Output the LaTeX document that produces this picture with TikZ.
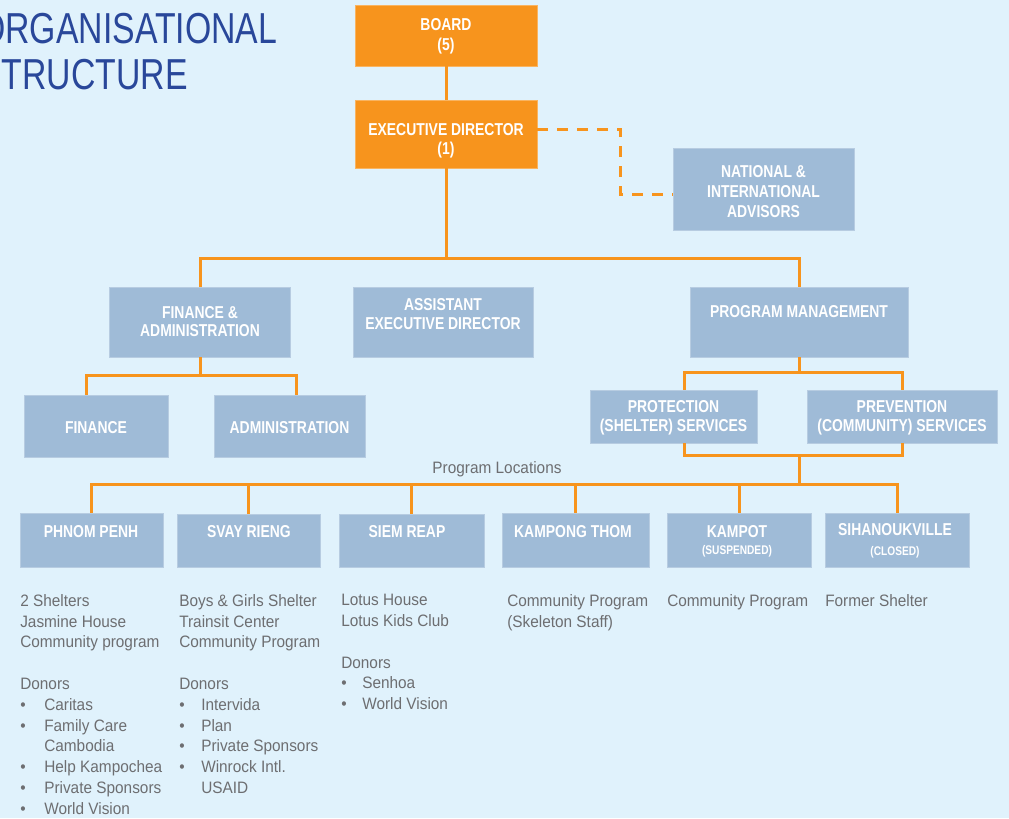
\documentclass[tikz,border=0pt]{standalone}
\usepackage{fontspec}
\setmainfont{Liberation Sans}
\newfontfamily\boxfont{Liberation Sans}[FakeStretch=0.81]
\newfontfamily\bodyfont{Liberation Sans}[FakeStretch=0.93]
\newfontfamily\titlefont{Liberation Sans}[FakeStretch=0.78]
\definecolor{bg}{HTML}{E0F2FC}
\definecolor{orng}{HTML}{F7941D}
\definecolor{boxblue}{HTML}{9FBBD7}
\definecolor{titleblue}{HTML}{29479A}
\definecolor{txtgray}{HTML}{6D6E71}
\newcommand\bulx[1]{\makebox[#1][l]{\textbullet}}
\tikzset{
  bx/.style 2 args={minimum width=#1*0.75pt, minimum height=#2*0.75pt},
  bbox/.style={fill=boxblue, draw=boxblue!75!white, line width=0.4pt, inner sep=0pt},
  obox/.style={fill=orng, draw=orng!70!white, line width=0.4pt, inner sep=0pt},
  btxt/.style={text=white, font=\boxfont\bfseries\fontsize{12.9}{14}\selectfont, align=center, inner sep=0pt},
  stxt/.style={text=white, font=\boxfont\bfseries\fontsize{9.4}{11}\selectfont, align=center, inner sep=0pt},
  bodytxt/.style={text=txtgray, font=\bodyfont\fontsize{12.4}{15.6}\selectfont, align=left, inner sep=0pt},
  titletxt/.style={text=titleblue, font=\titlefont\fontsize{32.5}{34.5}\selectfont, inner sep=0pt},
  conn/.style={draw=orng, line width=2.25pt},
  dconn/.style={draw=orng, line width=2.25pt, dash pattern=on 8pt off 7pt}
}
\begin{document}
\begin{tikzpicture}[x=0.75pt,y=-0.75pt]
\fill[bg] (0,0) rectangle (1009,818);
\useasboundingbox (0,0) rectangle (1009,818);

% title
\node[titletxt, anchor=base west] (t1) at (-21,43) {ORGANISATIONAL};
\node[titletxt, anchor=base west] (t2) at (-21,89) {STRUCTURE};

% top boxes
\node[obox, bx={182}{61}] (board) at (446,35.5) {};
\node[btxt] (boardt) at (446,36.5) {BOARD\\[1pt](5)};
\node[obox, bx={182}{68}] (ed) at (446,134) {};
\node[btxt] (edt) at (446,141) {EXECUTIVE DIRECTOR\\(1)};
\node[bbox, bx={181}{82}] (adv) at (763.5,189) {};
\node[btxt] (advt) at (763.5,192) {NATIONAL \&\\[1pt]INTERNATIONAL\\[1pt]ADVISORS};

% second level
\node[bbox, bx={181}{70}] (fa) at (200,322) {};
\node[btxt] (fat) at (200,321.5) {FINANCE \&\\ADMINISTRATION};
\node[bbox, bx={180}{70}] (aed) at (443,322) {};
\node[btxt] (aedt) at (443,314) {ASSISTANT\\EXECUTIVE DIRECTOR};
\node[bbox, bx={218}{70}] (pm) at (799,322) {};
\node[btxt] (pmt) at (799,312) {PROGRAM MANAGEMENT};

% third level
\node[bbox, bx={144}{62}] (fin) at (96,426) {};
\node[btxt] (fint) at (96,428) {FINANCE};
\node[bbox, bx={151}{62}] (adm) at (289.5,426) {};
\node[btxt] (admt) at (289.5,428) {ADMINISTRATION};
\node[bbox, bx={167}{53}] (prot) at (673.5,416.5) {};
\node[btxt] (prott) at (673.5,418) {PROTECTION\\(SHELTER) SERVICES};
\node[bbox, bx={190}{53}] (prev) at (902,416.5) {};
\node[btxt] (prevt) at (902,418) {PREVENTION\\(COMMUNITY) SERVICES};

\node[bodytxt] (pl) at (497,469) {Program Locations};

% locations
\node[bbox, bx={143}{54}] (pp) at (91.5,540) {};
\node[btxt] (ppt) at (91,532) {PHNOM PENH};
\node[bbox, bx={143}{53}] (sr) at (248.5,540.5) {};
\node[btxt] (srt) at (249,532) {SVAY RIENG};
\node[bbox, bx={145}{53}] (sre) at (411.5,540.5) {};
\node[btxt] (sret) at (407,532) {SIEM REAP};
\node[bbox, bx={147}{54}] (kt) at (575.5,540) {};
\node[btxt] (ktt) at (573,532) {KAMPONG THOM};
\node[bbox, bx={144}{54}] (kp) at (739,540) {};
\node[btxt] (kpt) at (737,532) {KAMPOT};
\node[stxt] (kps) at (737,551) {(SUSPENDED)};
\node[bbox, bx={144}{54}] (sh) at (897,540) {};
\node[btxt] (sht) at (895,530) {SIHANOUKVILLE};
\node[stxt] (shs) at (895,552) {(CLOSED)};

% connectors
\draw[conn] (board.south) -- (ed.north);
\coordinate (j1) at (446,258);
\draw[conn] (ed.south) -- (j1);
\draw[conn] (fa.north) |- (j1) -| (pm.north);
\coordinate (dk) at (620,160);
\draw[dconn] ([yshift=3.75pt]ed.east) -| (dk) |- ([yshift=-3.75pt]adv.west);
\coordinate (j2) at (200,375);
\draw[conn] (fa.south) -- (j2);
\draw[conn] ([xshift=-7.5pt]fin.north) |- (j2) -| ([xshift=4.9pt]adm.north);
\coordinate (j3) at (799,372);
\draw[conn] (pm.south) -- (j3);
\draw[conn] ([xshift=8.6pt]prot.north) |- (j3) -| (prev.north);
\coordinate (j4) at (799,455);
\draw[conn] ([xshift=8.6pt]prot.south) |- (j4) -| (prev.south);
\coordinate (j5) at (799,484);
\draw[conn] (j4) -- (j5);
\draw[conn] (pp.north) |- (j5) -| (sh.north);
\foreach \n in {sr,sre,kt,kp} \draw[conn] (\n.north) -- (\n.north |- j5);

% descriptions
\node[bodytxt, anchor=north west] (c1) at (20,594) {2 Shelters\\Jasmine House\\Community program\\[15.6pt]Donors\\\bulx{18pt}Caritas\\\bulx{18pt}Family Care\\\hspace*{18pt}Cambodia\\\bulx{18pt}Help Kampochea\\\bulx{18pt}Private Sponsors\\\bulx{18pt}World Vision};
\node[bodytxt, anchor=north west] (c2) at (179,594) {Boys \& Girls Shelter\\Trainsit Center\\Community Program\\[15.6pt]Donors\\\bulx{16.5pt}Intervida\\\bulx{16.5pt}Plan\\\bulx{16.5pt}Private Sponsors\\\bulx{16.5pt}Winrock Intl.\\\hspace*{16.5pt}USAID};
\node[bodytxt, anchor=north west] (c3) at (341,594) {Lotus House\\Lotus Kids Club\\[15.6pt]Donors\\\bulx{15.75pt}Senhoa\\\bulx{15.75pt}World Vision};
\node[bodytxt, anchor=north west] (c4) at (507,594) {Community Program\\(Skeleton Staff)};
\node[bodytxt, anchor=north west] (c5) at (667,594) {Community Program};
\node[bodytxt, anchor=north west] (c6) at (825,594) {Former Shelter};
\end{tikzpicture}
\end{document}
